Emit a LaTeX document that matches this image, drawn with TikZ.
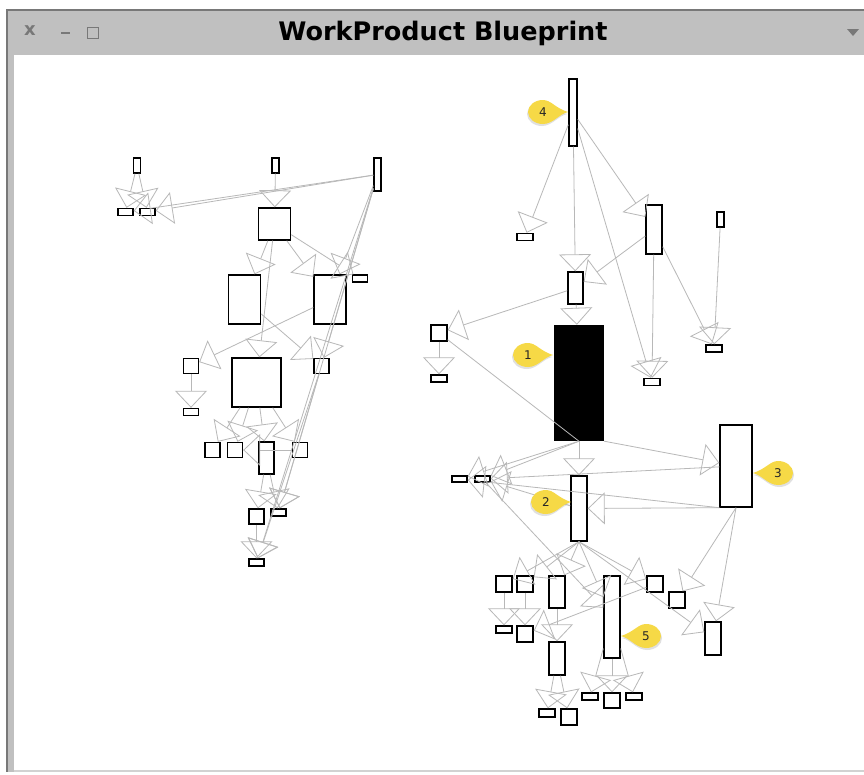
\documentclass[tikz,border=0pt]{standalone}
\usepackage{fontspec}
\setmainfont{DejaVu Sans}
\usetikzlibrary{arrows.meta, positioning}
\definecolor{bpframe}{RGB}{192,192,192}
\definecolor{bpframedark}{RGB}{120,120,120}
\definecolor{bpedge}{RGB}{184,184,184}
\definecolor{bpyellow}{RGB}{246,217,70}
\tikzset{
  bpbox/.style={
    draw=black, line width=1.4pt, fill=white, inner sep=0pt,
    minimum width=15pt, minimum height=15pt
  },
  bpflat/.style={bpbox, minimum height=7pt},
  bpslim/.style={bpbox, minimum width=7pt},
  bparrow/.style={
    draw=bpedge, line width=0.8pt,
    -{Triangle[open, length=17pt, width=32pt]}
  },
  bpline/.style={draw=bpedge, line width=0.8pt},
  bplabel/.style={font=\fontsize{12}{14}\selectfont, text=black!85},
  bpicon/.style={font=\bfseries\fontsize{18}{18}\selectfont, text=bpframedark},
  pics/bpcallout/.style={code={
    \fill[gray!60, opacity=0.4]
      (24,2) .. controls (11,-2) and (7,-10) .. (-1,-10)
      arc[start angle=270, end angle=90, x radius=15, y radius=12]
      .. controls (9,14) and (15,4) .. (24,2) -- cycle;
    \fill[bpyellow]
      (25,0) .. controls (12,-4) and (8,-12) .. (0,-12)
      arc[start angle=270, end angle=90, x radius=15, y radius=12]
      .. controls (10,12) and (16,2) .. (25,0) -- cycle;
    \node[bplabel] (-num) at (0,0) {#1};
  }},
}

\begin{document}
\begin{tikzpicture}[x=1pt, y=-1pt]
  \useasboundingbox (0,0) rectangle (864,774);
  \fill[white] (0,0) rectangle (864,774);

  % ── Window frame ──
  \fill[bpframe] (6,9) rectangle (864,55);
  \fill[bpframe] (6,55) rectangle (14,772);
  \fill[bpframedark] (6,9) rectangle (864,10.5);
  \fill[bpframedark] (6,9) rectangle (7.5,772);
  \fill[gray!35] (14,770) rectangle (864,772);
  \node[font=\bfseries\fontsize{25.5}{28}\selectfont] (title) at (443,33) {WorkProduct Blueprint};
  \node[bpicon] (iconclose) at (30,31) {x};
  \node[fill=bpframedark, minimum width=9pt, minimum height=2.2pt, inner sep=0pt] (iconmin) at (65,33) {};
  \node[draw=bpframedark, line width=1.6pt, minimum size=11pt, inner sep=0pt] (iconmax) at (93,33) {};
  \fill[bpframedark] (847,29) -- (859,29) -- (853,36) -- cycle;

  % ── Left cluster ──
  \node[bpslim] (a1) at (137,165.5) {};
  \node[bpslim] (a2) at (275.5,165.5) {};
  \node[bpslim, minimum height=33pt] (a3) at (377.5,174.5) {};
  \node[bpflat] (a4) at (125.5,212) {};
  \node[bpflat] (a5) at (147.5,212) {};
  \node[bpbox, minimum size=32pt] (a6) at (274.5,224) {};
  \node[bpflat] (a7) at (360,278.5) {};
  \node[bpbox, minimum width=32pt, minimum height=49pt] (a8) at (244.5,299.5) {};
  \node[bpbox, minimum width=32pt, minimum height=49pt] (a9) at (330,299.5) {};
  \node[bpbox] (a10) at (191,366) {};
  \node[bpbox, minimum size=49pt] (a11) at (256.5,382.5) {};
  \node[bpbox] (a12) at (321.5,366) {};
  \node[bpflat] (a13) at (191,412) {};
  \node[bpbox] (a14) at (212.5,450) {};
  \node[bpbox] (a15) at (235,450) {};
  \node[bpbox, minimum height=32pt] (a16) at (266.5,458) {};
  \node[bpbox] (a17) at (300,450) {};
  \node[bpbox] (a18) at (256.5,516.5) {};
  \node[bpflat] (a19) at (278.5,512.5) {};
  \node[bpflat] (a20) at (256.5,562.5) {};

  % ── Right cluster ──
  \node[bpslim, minimum width=8pt, minimum height=67pt] (b1) at (573,112.5) {};
  \node[bpflat, minimum width=16pt] (b2) at (525,237) {};
  \node[bpbox, minimum width=16pt, minimum height=49pt] (b3) at (654,229.5) {};
  \node[bpslim] (b4) at (720.5,219.5) {};
  \node[bpbox, minimum height=32pt] (b5) at (575.5,288) {};
  \node[bpbox, fill=black, minimum width=49pt, minimum height=115pt] (b6) at (579,383) {};
  \node[bpbox, minimum size=16pt] (b7) at (439,333) {};
  \node[bpflat, minimum width=16pt] (b8) at (439,378.5) {};
  \node[bpflat, minimum width=16pt] (b9) at (652,382) {};
  \node[bpflat, minimum width=16pt] (b10) at (714,348.5) {};
  \node[bpbox, minimum width=32pt, minimum height=82pt] (b11) at (736,466) {};
  \node[bpbox, minimum width=16pt, minimum height=65pt] (b12) at (579,508.5) {};
  \node[bpflat, minimum height=6pt] (b13) at (459.5,479) {};
  \node[bpflat, minimum height=6pt] (b14) at (482.5,479) {};

  % ── Lower cluster ──
  \node[bpbox, minimum size=16pt] (c1) at (504,584) {};
  \node[bpbox, minimum size=16pt] (c2) at (525,584) {};
  \node[bpbox, minimum width=16pt, minimum height=32pt] (c3) at (557,592) {};
  \node[bpbox, minimum width=16pt, minimum height=82pt] (c4) at (612,617) {};
  \node[bpbox, minimum size=16pt] (c5) at (655,584) {};
  \node[bpbox, minimum size=16pt] (c6) at (677,600) {};
  \node[bpbox, minimum width=16pt, minimum height=33pt] (c7) at (713,638.5) {};
  \node[bpflat, minimum width=16pt] (c8) at (504,629.5) {};
  \node[bpbox, minimum size=16pt] (c9) at (525,634) {};
  \node[bpbox, minimum width=16pt, minimum height=33pt] (c10) at (557,658.5) {};
  \node[bpflat, minimum width=16pt] (c11) at (590,696.5) {};
  \node[bpbox, minimum width=16pt] (c12) at (612,700.5) {};
  \node[bpflat, minimum width=16pt] (c13) at (634,696.5) {};
  \node[bpflat, minimum width=16pt, minimum height=8pt] (c14) at (547,713) {};
  \node[bpbox, minimum size=16pt] (c15) at (569,717) {};

  % ── Left edges ──
  \draw[bparrow] (a1) -- (a4);
  \draw[bparrow] (a1) -- (a5);
  \draw[bparrow] (a3) -- (a5);
  \draw[bparrow] (a3) -- (a4);
  \draw[bparrow] (a2) -- (a6);
  \draw[bparrow] (a3) -- (a9);
  \draw[bparrow] (a3) -- (a12);
  \draw[bparrow] (a3) -- (a19);
  \draw[bparrow] (a3) -- (a20);
  \draw[bparrow] (a6) -- (a8);
  \draw[bparrow] (a6) -- (a9);
  \draw[bparrow] (a6) -- (a7);
  \draw[bparrow] (a6) -- (a11);
  \draw[bparrow] (a8) -- (a12);
  \draw[bparrow] (a9) -- (a10);
  \draw[bparrow] (a10) -- (a13);
  \draw[bparrow] (a11) -- (a14);
  \draw[bparrow] (a11) -- (a15);
  \draw[bparrow] (a11) -- (a16);
  \draw[bparrow] (a11) -- (a17);
  \draw[bparrow] (a17) -- (a15);
  \draw[bparrow] (a16) -- (a18);
  \draw[bparrow] (a16) -- (a19);
  \draw[bparrow] (a18) -- (a20);
  \draw[bparrow] (a12) -- (a20);
  \draw[bparrow] (a12) -- (a19);

  % ── Right edges ──
  \draw[bparrow] (b1) -- (b2);
  \draw[bparrow] (b1) -- (b5);
  \draw[bparrow] (b1) -- (b9);
  \draw[bparrow] (b1) -- (b3);
  \draw[bparrow] (b3) -- (b5);
  \draw[bparrow] (b3) -- (b9);
  \draw[bparrow] (b3) -- (b10);
  \draw[bparrow] (b4) -- (b10);
  \draw[bparrow] (b5) -- (b6);
  \draw[bparrow] (b5) -- (b7);
  \draw[bparrow] (b7) -- (b8);
  \draw[bpline]  (b7) -- (b6.south);
  \draw[bparrow] (b6) -- (b12);
  \draw[bparrow] (b6.south east) -- (b11);
  \draw[bparrow] (b6.south) -- (b14);
  \draw[bparrow] (b6.south) -- (b13);
  \draw[bparrow] (b12) -- (b14);
  \draw[bparrow] (b11) -- (b14);
  \draw[bparrow] (b11.south west) -- (b13);
  \draw[bparrow] (b11.south west) -- (b12);

  % ── Lower edges ──
  \draw[bparrow] (b12.south) -- (c1);
  \draw[bparrow] (b12.south) -- (c2);
  \draw[bparrow] (b12.south) -- (c3);
  \draw[bparrow] (b12.south) -- (c4);
  \draw[bparrow] (b12.south) -- (c5);
  \draw[bparrow] (b12.south) -- (c7);
  \draw[bparrow] (b14) -- (c4);
  \draw[bparrow] (b11.south) -- (c6);
  \draw[bparrow] (b11.south) -- (c7);
  \draw[bparrow] (c1) -- (c8);
  \draw[bparrow] (c2) -- (c9);
  \draw[bparrow] (c3) -- (c10);
  \draw[bparrow] (c5) -- (c9);
  \draw[bparrow] (c4) -- (c12);
  \draw[bparrow] (c4) -- (c11);
  \draw[bparrow] (c4) -- (c13);
  \draw[bparrow] (c10) -- (c14);
  \draw[bparrow] (c10) -- (c15);

  % ── Callouts ──
  \pic (k4) at (543,112) {bpcallout=4};
  \pic (k1) at (528,355) {bpcallout=1};
  \pic (k2) at (546,502) {bpcallout=2};
  \pic[xscale=-1] (k3) at (778,473) {bpcallout=3};
  \pic[xscale=-1] (k5) at (646,636) {bpcallout=5};
\end{tikzpicture}
\end{document}
